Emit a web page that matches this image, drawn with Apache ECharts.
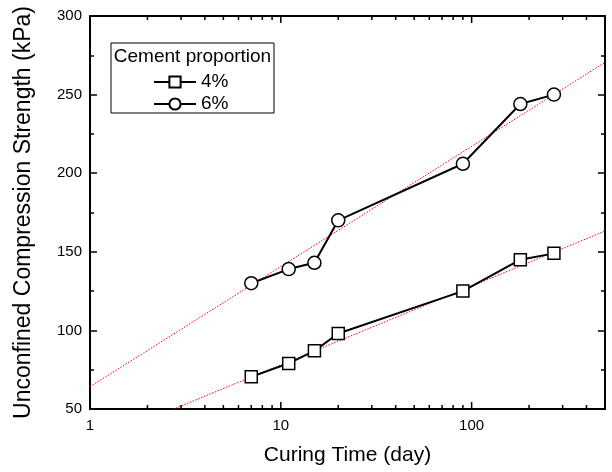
<!DOCTYPE html>
<html>
<head>
<meta charset="utf-8">
<script src="https://cdn.jsdelivr.net/npm/echarts@6/dist/echarts.min.js"></script>
<style>html,body{margin:0;padding:0;background:#fff;}#c{width:612px;height:472px;}</style>
</head>
<body>
<div id="c"></div>
<script>
const days = [7, 11, 15, 20, 90, 180, 270];
const ucs4 = [70.5, 79, 87, 98, 125, 145, 149];
const ucs6 = [130, 139, 143, 170, 206, 244, 250];
const fitX = [1, 500];
const fit4 = [28, 163.2];
const fit6 = [64.2, 270.5];
const xMajor = [1, 10, 100];
const xMinor = [2,3,4,5,6,7,8,9,20,30,40,50,60,70,80,90,200,300,400];
const FONT = 'Liberation Sans, Arial, sans-serif';

const pair = (xs, ys) => xs.map((x, i) => [x, ys[i]]);
const chart = echarts.init(document.getElementById('c'), null, {renderer: 'canvas'});

function xAx(pos, labels, name) {
  return {
    type: 'log', logBase: 10, min: 1, max: 500, position: pos,
    axisLine: {show: true, onZero: false, lineStyle: {color: '#000', width: 2}},
    axisTick: {show: false},
    axisLabel: {show: labels, customValues: xMajor, color: '#000', fontSize: 15, fontFamily: FONT, margin: 9},
    splitLine: {show: false}, minorTick: {show: false},
    name: name || '', nameLocation: 'middle', nameGap: 36,
    nameTextStyle: {color: '#000', fontSize: 21, fontFamily: FONT}
  };
}
function yAx(pos, labels, name) {
  return {
    type: 'value', min: 50, max: 300, interval: 50, position: pos,
    axisLine: {show: true, onZero: false, lineStyle: {color: '#000', width: 2}},
    axisTick: {show: true, inside: true, length: 7, lineStyle: {color: '#000', width: 1.5}},
    minorTick: {show: true, splitNumber: 2, length: 4, lineStyle: {color: '#000', width: 1.5}},
    axisLabel: {show: labels, color: '#000', fontSize: 15, fontFamily: FONT, margin: 8},
    splitLine: {show: false},
    name: name || '', nameLocation: 'middle', nameGap: 55,
    nameTextStyle: {color: '#000', fontSize: 23, fontFamily: FONT}
  };
}

const tickData = xMajor.map(v => [v, 1]).concat(xMinor.map(v => [v, 0]));

chart.setOption({
  animation: false,
  backgroundColor: '#fff',
  grid: {left: 90, right: 7, top: 16, bottom: 63, containLabel: false},
  xAxis: [
    xAx('bottom', true, 'Curing Time (day)'),
    xAx('top', false)
  ],
  yAxis: [
    yAx('left', true, 'Unconfined Compression Strength (kPa)'),
    yAx('right', false)
  ],
  graphic: [
    {type: 'rect', shape: {x: 111, y: 43, width: 163, height: 70}, style: {fill: '#fff', stroke: '#000', lineWidth: 1}, z: 5},
    {type: 'text', x: 192.5, y: 57, style: {text: 'Cement proportion', fill: '#000', font: '19px ' + FONT, textAlign: 'center', textVerticalAlign: 'middle'}, z: 6}
  ],
  legend: {
    data: ['4%', '6%'], orient: 'vertical', left: 153, top: 72.5, padding: 0,
    itemWidth: 42, itemHeight: 14, itemGap: 3, z: 10,
    textStyle: {color: '#000', fontSize: 19, fontFamily: FONT}
  },
  series: [
    {name: 'ticks', type: 'custom', silent: true, z: 4, clip: false,
     data: tickData,
     renderItem: function (params, api) {
       const x = api.value(0);
       const len = api.value(1) ? 7 : 4;
       const b = api.coord([x, 50]);
       const t = api.coord([x, 300]);
       const st = {stroke: '#000', lineWidth: 1.5};
       return {type: 'group', children: [
         {type: 'line', shape: {x1: b[0], y1: b[1], x2: b[0], y2: b[1] - len}, style: st},
         {type: 'line', shape: {x1: t[0], y1: t[1], x2: t[0], y2: t[1] + len}, style: st}
       ]};
     }},
    {name: 'fit4', type: 'line', data: pair(fitX, fit4), symbol: 'none', clip: true,
     lineStyle: {color: '#ff0000', width: 1, type: [1.5, 1.5]}, z: 1, silent: true},
    {name: 'fit6', type: 'line', data: pair(fitX, fit6), symbol: 'none', clip: true,
     lineStyle: {color: '#ff0000', width: 1, type: [1.5, 1.5]}, z: 1, silent: true},
    {name: '4%', type: 'line', data: pair(days, ucs4), symbol: 'rect', symbolSize: 12,
     lineStyle: {color: '#000', width: 2}, itemStyle: {color: '#fff', borderColor: '#000', borderWidth: 1.5}, z: 3},
    {name: '6%', type: 'line', data: pair(days, ucs6), symbol: 'circle', symbolSize: 13,
     lineStyle: {color: '#000', width: 2}, itemStyle: {color: '#fff', borderColor: '#000', borderWidth: 1.5}, z: 3}
  ]
});
</script>
</body>
</html>
